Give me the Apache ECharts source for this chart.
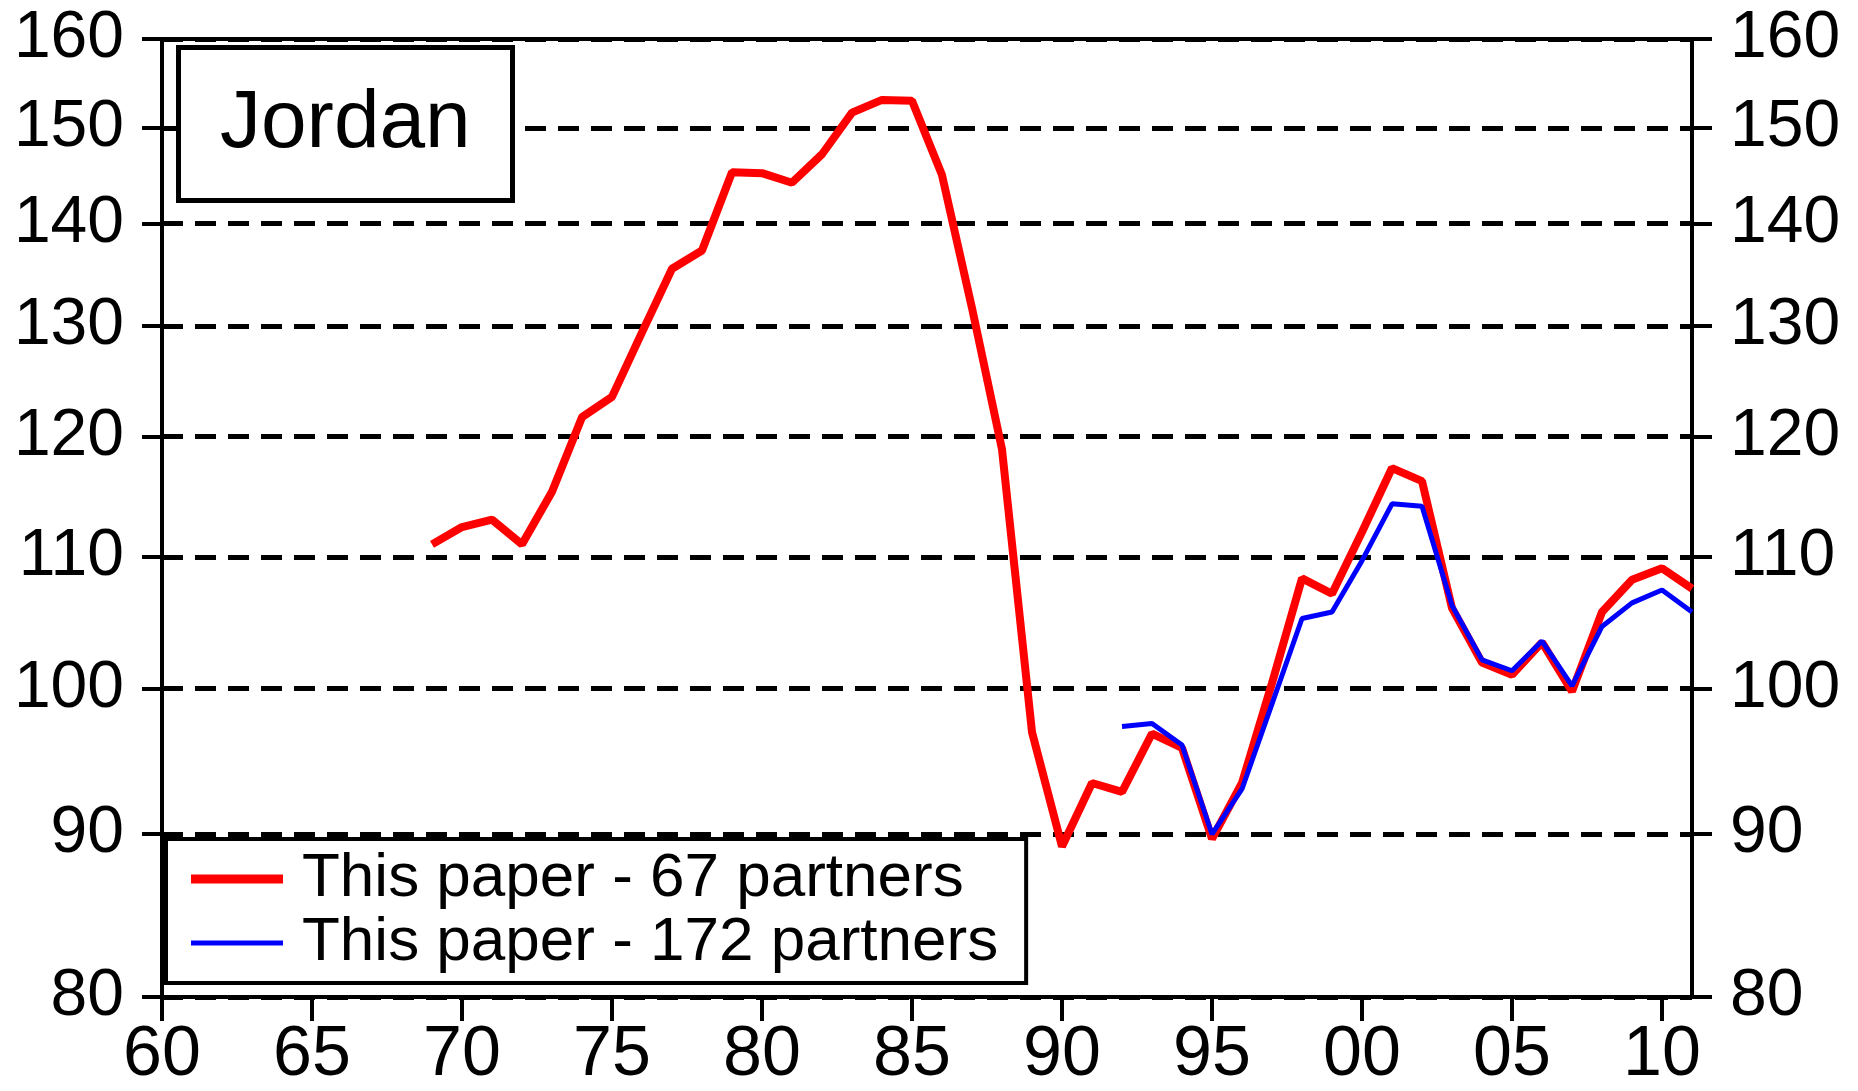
<!DOCTYPE html>
<html>
<head>
<meta charset="utf-8">
<script src="https://cdn.jsdelivr.net/npm/echarts@6/dist/echarts.min.js"></script>
<style>
  html, body { margin: 0; padding: 0; background: #fff; }
  #myChart { width: 1858px; height: 1091px; }
</style>
</head>
<body>
<div id="myChart"></div>
<script>
// years and values
var years67 = [1969, 1970, 1971, 1972, 1973, 1974, 1975, 1976, 1977, 1978, 1979, 1980, 1981, 1982, 1983, 1984, 1985,
  1986, 1987, 1988, 1989, 1990, 1991, 1992, 1993, 1994, 1995, 1996, 1997, 1998, 1999, 2000, 2001, 2002, 2003, 2004,
  2005, 2006, 2007, 2008, 2009, 2010, 2011];
var values67 = [111.0, 112.4, 113.0, 111.0, 115.3, 121.7, 123.5, 129.4, 135.5, 137.3, 145.3, 145.2, 144.2, 147.2, 151.7,
  153.1, 153.0, 145.0, 131.7, 118.9, 96.9, 89.2, 93.4, 92.8, 96.8, 95.8, 89.7, 93.4, 100.4, 108.3, 107.1, 112.0, 117.3,
  116.2, 106.0, 101.9, 101.0, 103.4, 99.8, 105.7, 108.2, 109.1, 107.5];

var years172 = [1992, 1993, 1994, 1995, 1996, 1997, 1998, 1999, 2000, 2001, 2002, 2003, 2004, 2005, 2006, 2007, 2008,
  2009, 2010, 2011];
var values172 = [97.3, 97.5, 96.0, 90.0, 93.0, 98.9, 105.2, 105.7, 109.7, 114.3, 114.1, 106.2, 102.1, 101.3, 103.5,
  100.2, 104.6, 106.4, 107.4, 105.7];

var yTicks = [80, 90, 100, 110, 120, 130, 140, 150, 160];
var yGrid = [90, 100, 110, 120, 130, 140, 150];

// log scale: plot ln(value) on a value axis
function toLog(arr) { return arr.map(function (v) { return Math.log(v); }); }
function pairs(xs, ys) { return xs.map(function (x, i) { return [x, Math.log(ys[i])]; }); }

var font = '"Liberation Sans", Arial, sans-serif';
var chart = echarts.init(document.getElementById('myChart'));

function yAxisDef(pos) {
  return {
    type: 'value',
    position: pos,
    min: Math.log(80),
    max: Math.log(160),
    axisLine: { show: true, lineStyle: { color: '#000', width: 4 } },
    axisTick: { show: true, customValues: toLog(yTicks), length: 20, lineStyle: { color: '#000', width: 4 } },
    axisLabel: {
      customValues: toLog(yTicks),
      margin: 38,
      color: '#000',
      fontFamily: font,
      fontSize: 66,
      formatter: function (v) { return String(Math.round(Math.exp(v))); }
    },
    splitLine: {
      show: pos === 'left',
      customValues: toLog(yGrid),
      lineStyle: { color: '#000', width: 5, type: [21, 12] }
    }
  };
}

chart.setOption({
  animation: false,
  title: {
    text: 'Jordan',
    left: 178,
    top: 47,
    backgroundColor: '#fff',
    borderColor: '#000',
    borderWidth: 5,
    padding: [36, 42, 36, 42],
    textStyle: { fontFamily: font, fontSize: 82, fontWeight: 'normal', color: '#000', lineHeight: 82 }
  },
  legend: {
    orient: 'vertical',
    left: 166,
    top: 839,
    backgroundColor: '#fff',
    borderColor: '#000',
    borderWidth: 4,
    padding: [8, 28, 8, 25],
    itemGap: 0,
    itemWidth: 92,
    itemHeight: 64,
    textStyle: { fontFamily: font, fontSize: 62, color: '#000', lineHeight: 64, padding: [0, 0, 0, 14] },
    data: [
      { name: 'This paper - 67 partners', icon: 'path://M0,0L92,0L92,9L0,9Z' },
      { name: 'This paper - 172 partners', icon: 'path://M0,0L92,0L92,5L0,5Z' }
    ]
  },
  grid: {
    left: 162,
    right: 166,
    top: 39,
    bottom: 92,
    show: true,
    borderColor: '#000',
    borderWidth: 4,
    containLabel: false
  },
  xAxis: {
    type: 'value',
    min: 1960,
    max: 2011,
    interval: 5,
    axisLine: { show: true, lineStyle: { color: '#000', width: 4 } },
    axisTick: { show: true, length: 24, lineStyle: { color: '#000', width: 4 } },
    axisLabel: {
      margin: 24,
      color: '#000',
      fontFamily: font,
      fontSize: 70,
      lineHeight: 70,
      showMaxLabel: false,
      formatter: function (v) { return v % 5 ? '' : String(v).slice(2); }
    },
    splitLine: { show: false }
  },
  yAxis: [yAxisDef('left'), yAxisDef('right')],
  series: [
    {
      name: 'This paper - 67 partners',
      type: 'line',
      data: pairs(years67, values67),
      showSymbol: false,
      symbol: 'none',
      color: '#ff0000',
      lineStyle: { color: '#ff0000', width: 8 },
      z: 3
    },
    {
      name: 'This paper - 172 partners',
      type: 'line',
      data: pairs(years172, values172),
      showSymbol: false,
      symbol: 'none',
      color: '#0000ff',
      lineStyle: { color: '#0000ff', width: 5 },
      z: 4
    }
  ]
});
</script>
</body>
</html>
